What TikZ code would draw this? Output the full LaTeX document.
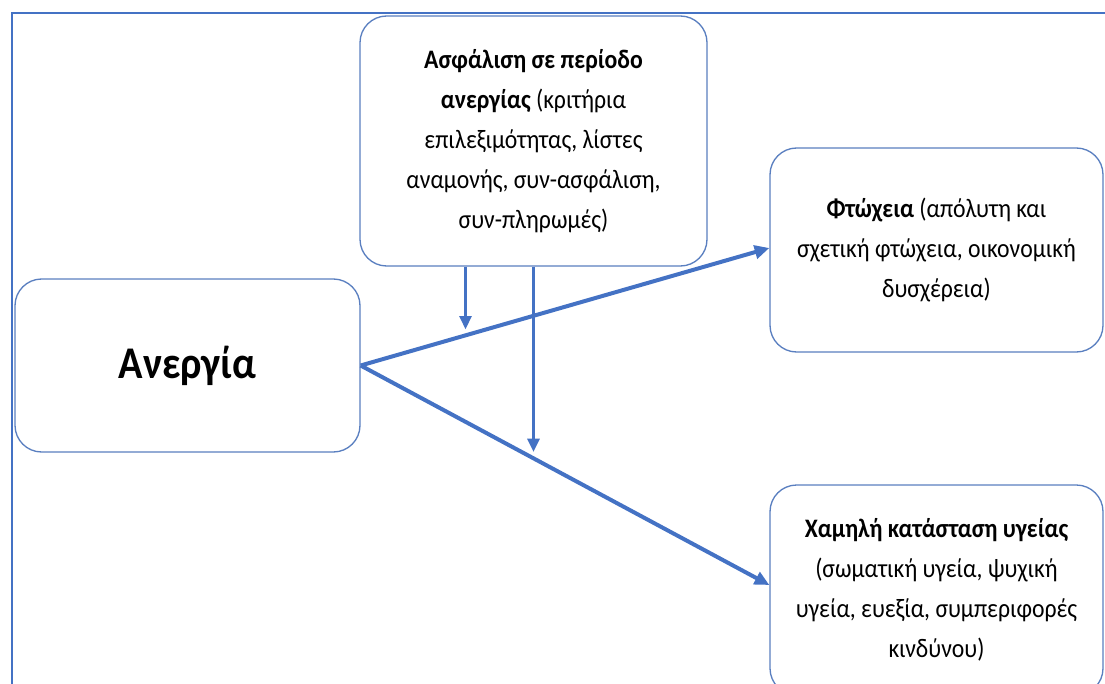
\documentclass[tikz,border=0pt]{standalone}
\usepackage{fontspec}
\setmainfont{Carlito}[FakeStretch=0.89]
\usetikzlibrary{arrows.meta}
\definecolor{frameblue}{HTML}{4472C4}
\definecolor{boxblue}{HTML}{5A7FC0}
\begin{document}
\begin{tikzpicture}[x=0.75pt,y=-0.75pt,
  box/.style={draw=boxblue,line width=1pt,rounded corners=20pt,fill=white,align=center,
    font=\fontsize{20}{30}\selectfont,inner sep=0pt},
  thick arrow/.style={draw=frameblue,line width=3pt,-{Triangle[length=11pt,width=10pt]}},
  thin arrow/.style={draw=frameblue,line width=2.2pt,-{Triangle[length=10pt,width=9pt]}}]
\useasboundingbox (0,0) rectangle (1105,684);
\begin{scope}
\clip (0,0) rectangle (1105,684);
% frame
\draw[frameblue,line width=2pt] (12,700) -- (12,13) -- (1110,13);
% boxes
\node[box,minimum width=260.25pt,minimum height=187.5pt] (top) at (533.5,141)
 {\textbf{Ασφάλιση σε περίοδο}\\ \textbf{ανεργίας} (κριτήρια\\ επιλεξιμότητας, λίστες\\ αναμονής, συν-ασφάλιση,\\ συν-πληρωμές)};
\node[box,minimum width=258.75pt,minimum height=129.75pt,font=\fontsize{34}{40}\selectfont\bfseries] (left) at (187.5,365.5) {Ανεργία};
\node[box,minimum width=249.75pt,minimum height=153pt] (rt) at (936.5,250)
 {\textbf{Φτώχεια} (απόλυτη και\\ σχετική φτώχεια, οικονομική\\ δυσχέρεια)};
\node[box,minimum width=249.75pt,minimum height=157.5pt] (rb) at (936.5,590)
 {\textbf{Χαμηλή κατάσταση υγείας}\\ (σωματική υγεία, ψυχική\\ υγεία, ευεξία, συμπεριφορές\\ κινδύνου)};
% connectors
\coordinate (t1) at ([xshift=-51pt]top.south);
\coordinate (e1) at ([xshift=-51pt,yshift=-47pt]top.south);
\coordinate (e2) at ([yshift=-139pt]top.south);
\draw[thick arrow] (left.east) -- ([yshift=1.5pt]rt.west);
\draw[thick arrow] (left.east) -- ([yshift=3.75pt]rb.west);
\draw[thin arrow] (t1) -- (e1);
\draw[thin arrow] (top.south) -- (e2);
\end{scope}
\end{tikzpicture}
\end{document}
